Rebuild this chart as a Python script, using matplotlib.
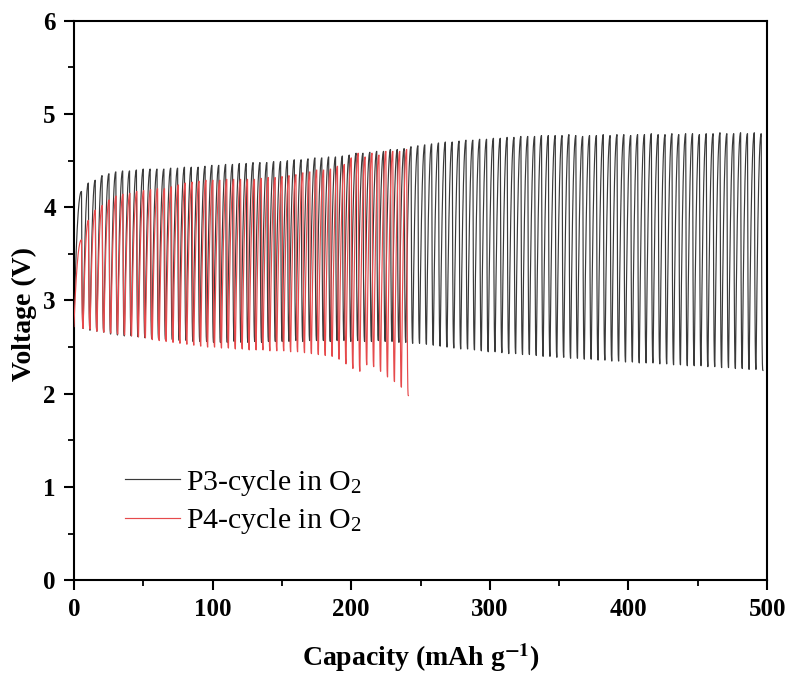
import numpy as np
import matplotlib
matplotlib.use("Agg")
import matplotlib.pyplot as plt
from matplotlib.ticker import MultipleLocator

plt.rcParams['font.family'] = ['Liberation Serif', 'DejaVu Serif']
plt.rcParams['mathtext.fontset'] = 'stix'

# Cycle geometry (capacity per cycle, position of the first charge peak)
period_p3 = 4.952
period_p4 = 4.99
first_peak = 5.5
p3_start = 2.75
p4_start = 2.72

# Charge end (peak) voltage of every cycle, P3 in O2
p3_top = [4.17, 4.26, 4.29, 4.34, 4.36, 4.38, 4.39, 4.39, 4.40, 4.41,
          4.41, 4.41, 4.41, 4.42, 4.42, 4.43, 4.43, 4.43, 4.44, 4.45,
          4.45, 4.46, 4.46, 4.47, 4.47, 4.48, 4.48, 4.48, 4.49, 4.49,
          4.50, 4.51, 4.51, 4.52, 4.53, 4.53, 4.54, 4.54, 4.55, 4.56,
          4.58, 4.58, 4.59, 4.60, 4.60, 4.62, 4.62, 4.63, 4.65, 4.66,
          4.67, 4.68, 4.69, 4.70, 4.70, 4.71, 4.72, 4.72, 4.73, 4.73,
          4.74, 4.74, 4.75, 4.75, 4.76, 4.76, 4.76, 4.77, 4.77, 4.77,
          4.77, 4.78, 4.77, 4.76, 4.77, 4.77, 4.78, 4.77, 4.78, 4.78,
          4.77, 4.78, 4.78, 4.79, 4.78, 4.78, 4.79, 4.78, 4.79, 4.79,
          4.78, 4.79, 4.79, 4.80, 4.79, 4.79, 4.80, 4.79, 4.80, 4.79]

# Discharge end voltage of every cycle, P3 in O2
p3_bottom = [2.70, 2.68, 2.67, 2.66, 2.64, 2.63, 2.62, 2.62, 2.61, 2.60,
             2.59, 2.59, 2.58, 2.58, 2.57, 2.57, 2.56, 2.56, 2.56, 2.55,
             2.55, 2.55, 2.56, 2.55, 2.55, 2.56, 2.55, 2.56, 2.56, 2.56,
             2.56, 2.57, 2.56, 2.57, 2.57, 2.57, 2.56, 2.57, 2.57, 2.56,
             2.57, 2.56, 2.56, 2.57, 2.56, 2.56, 2.55, 2.55, 2.54, 2.54,
             2.53, 2.52, 2.51, 2.50, 2.49, 2.48, 2.48, 2.47, 2.46, 2.45,
             2.45, 2.44, 2.43, 2.43, 2.42, 2.42, 2.41, 2.40, 2.40, 2.39,
             2.39, 2.38, 2.38, 2.37, 2.37, 2.36, 2.36, 2.35, 2.35, 2.34,
             2.34, 2.33, 2.33, 2.33, 2.32, 2.32, 2.31, 2.31, 2.30, 2.30,
             2.30, 2.29, 2.29, 2.28, 2.28, 2.27, 2.27, 2.26, 2.26, 2.25]

# Charge end (peak) voltage of every cycle, P4 in O2
p4_top = [3.65, 3.86, 3.97, 4.02, 4.08, 4.12, 4.14, 4.15, 4.17, 4.18,
          4.19, 4.20, 4.20, 4.22, 4.24, 4.26, 4.27, 4.28, 4.29, 4.29,
          4.29, 4.30, 4.30, 4.30, 4.30, 4.30, 4.31, 4.32, 4.32, 4.33,
          4.34, 4.35, 4.37, 4.38, 4.40, 4.40, 4.41, 4.44, 4.46, 4.53,
          4.58, 4.54, 4.58, 4.56, 4.60, 4.60, 4.60, 4.62]

# Discharge end voltage of every cycle, P4 in O2
p4_bottom = [2.70, 2.69, 2.67, 2.66, 2.65, 2.64, 2.63, 2.62, 2.61, 2.60,
             2.58, 2.57, 2.56, 2.55, 2.54, 2.53, 2.52, 2.51, 2.50, 2.50,
             2.49, 2.49, 2.48, 2.48, 2.47, 2.47, 2.47, 2.46, 2.46, 2.46,
             2.45, 2.45, 2.44, 2.43, 2.42, 2.41, 2.40, 2.37, 2.32, 2.27,
             2.24, 2.31, 2.29, 2.24, 2.18, 2.13, 2.07, 1.98]


def cycling_curve(start_v, tops, bottoms, period, peak0,
                  drop_w=1.2, n=2.2, pts=40):
    """Voltage–capacity trace: concave charge rise to each peak,
    then a steep discharge drop that flattens at its end voltage."""
    xs, vs = [np.array([0.0])], [np.array([start_v])]
    prev_x, prev_v = 0.0, start_v
    t = np.linspace(0, 1, pts)[1:]
    for k, (top, bot) in enumerate(zip(tops, bottoms)):
        peak_x = peak0 + k * period
        xs.append(prev_x + (peak_x - prev_x) * t)
        vs.append(prev_v + (top - prev_v) * (1 - (1 - t) ** n))
        xs.append(peak_x + drop_w * t)
        vs.append(top - (top - bot) * (1 - (1 - t) ** 3))
        prev_x, prev_v = peak_x + drop_w, bot
    return np.concatenate(xs), np.concatenate(vs)


x3, v3 = cycling_curve(p3_start, p3_top, p3_bottom, period_p3, first_peak)
x4, v4 = cycling_curve(p4_start, p4_top, p4_bottom, period_p4, first_peak)

fig = plt.figure(figsize=(7.86, 6.73), dpi=100)
ax = fig.add_axes([0.094, 0.138, 0.882, 0.831])

ax.plot(x3, v3, color='#3a3a3a', lw=0.85, label=r'P3-cycle in O$_\mathregular{2}$', zorder=2)
ax.plot(x4, v4, color='#e64a4c', lw=0.85, label=r'P4-cycle in O$_\mathregular{2}$', zorder=3)

ax.set_xlim(0, 500)
ax.set_ylim(0, 6)
ax.xaxis.set_major_locator(MultipleLocator(100))
ax.xaxis.set_minor_locator(MultipleLocator(50))
ax.yaxis.set_major_locator(MultipleLocator(1))
ax.yaxis.set_minor_locator(MultipleLocator(0.5))
ax.tick_params(which='major', direction='out', length=7, width=1.5,
               labelsize=18, pad=6)
ax.tick_params(which='minor', direction='out', length=4, width=1.3)
for lab in ax.get_xticklabels() + ax.get_yticklabels():
    lab.set_fontweight('bold')
for sp in ax.spines.values():
    sp.set_linewidth(1.5)

ax.set_xlabel(r'Capacity (mAh g$^{\mathbf{-1}}$)', fontsize=20,
              fontweight='bold', labelpad=14)
ax.set_ylabel('Voltage (V)', fontsize=20, fontweight='bold')
ax.yaxis.set_label_coords(-0.053, 0.475)

leg = ax.legend(loc='lower left', bbox_to_anchor=(0.035, 0.03), frameon=False,
                fontsize=21.5, handlelength=1.85, handletextpad=0.2,
                labelspacing=0.3)

fig.savefig('out.png', dpi=100)
